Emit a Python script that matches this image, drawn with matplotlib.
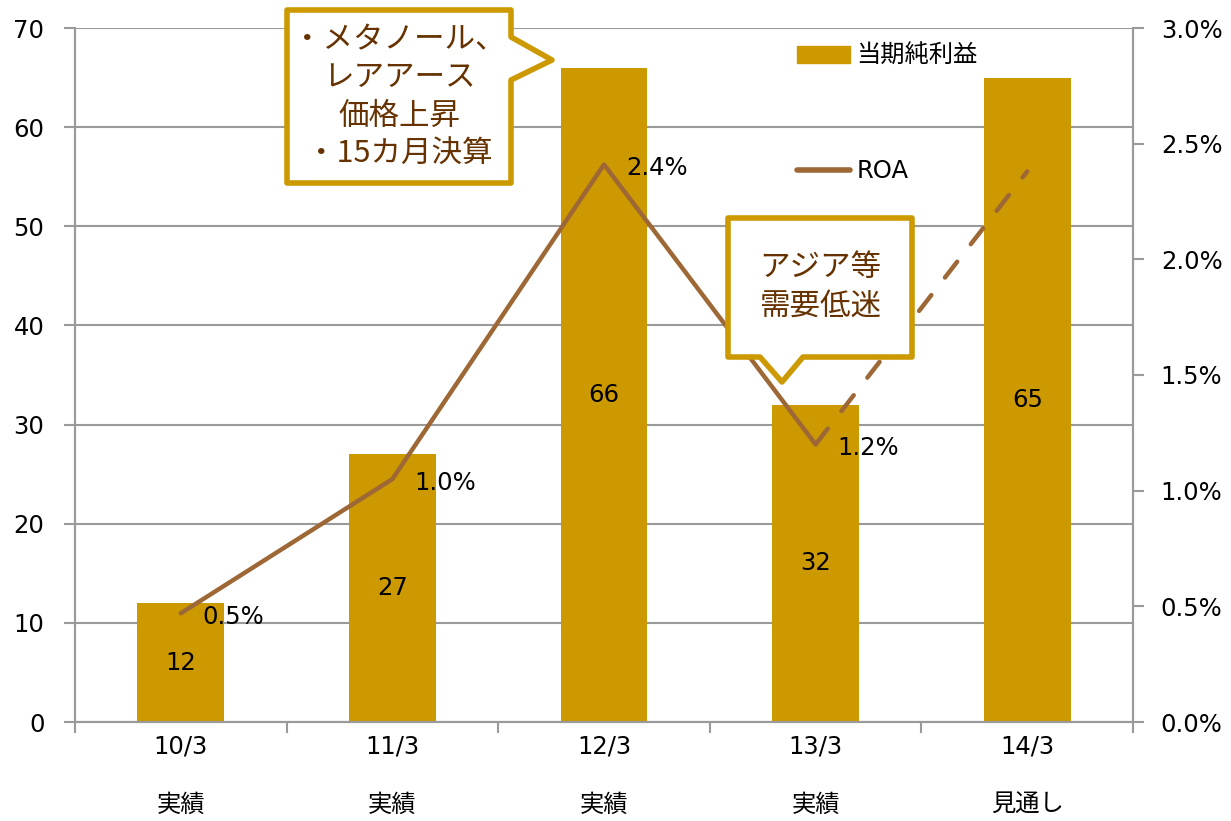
import numpy as np
import matplotlib
matplotlib.use("Agg")
import matplotlib.pyplot as plt
from matplotlib.patches import Polygon
from matplotlib.lines import Line2D
from matplotlib.patches import Patch

plt.rcParams['font.family'] = ['DejaVu Sans', 'Noto Sans CJK JP']

# data
periods = ["10/3", "11/3", "12/3", "13/3", "14/3"]
kinds = ["実績", "実績", "実績", "実績", "見通し"]
profit = [12, 27, 66, 32, 65]
roa = [0.47, 1.05, 2.41, 1.20, 2.38]
roa_labels = ["0.5%", "1.0%", "2.4%", "1.2%", ""]
note1 = "・メタノール、\nレアアース\n価格上昇\n・15カ月決算"
note2 = "アジア等\n需要低迷"

bar_color = "#CC9900"
line_color = "#9E6836"
note_color = "#663300"
grid_color = "#9A9A9A"
fs = 17.5

W, H = 1231, 821
fig = plt.figure(figsize=(W / 100, H / 100), dpi=100)
ax = fig.add_axes([75 / W, 1 - 722 / H, (1133 - 75) / W, (722 - 28) / H])
ax2 = ax.twinx()

x = np.arange(len(periods))
bars = ax.bar(x, profit, width=0.41, color=bar_color, zorder=2)
for xi, v in zip(x, profit):
    ax.text(xi, v / 2, str(v), ha="center", va="center", fontsize=fs, zorder=3)

ax.set_xlim(-0.5, len(periods) - 0.5)
ax.set_ylim(0, 70)
ax.set_yticks(range(0, 71, 10))
ax.yaxis.grid(True, color=grid_color, lw=1.5)
ax.set_axisbelow(True)
ax.set_xticks(x)
ax.set_xticklabels([p + "\n" + k for p, k in zip(periods, kinds)], linespacing=2.8)
ax.set_xticks(np.arange(-0.5, len(periods), 1), minor=True)
ax.tick_params(axis="x", which="major", length=0, pad=9, labelsize=fs)
ax.tick_params(axis="x", which="minor", length=8, width=1.5, color=grid_color)
ax.tick_params(axis="y", length=8, width=1.5, color=grid_color, labelsize=fs, pad=14)

for a in (ax, ax2):
    a.spines["top"].set_visible(False)
    for s in ("left", "right", "bottom"):
        a.spines[s].set_color(grid_color)
        a.spines[s].set_linewidth(1.5)

# ROA line: solid for actuals, dashed for forecast
ax2.plot(x[:4], roa[:4], color=line_color, lw=3.2, solid_capstyle="round", zorder=4)
ax2.plot(x[3:], roa[3:], color=line_color, lw=3.2, ls=(0, (4.5, 5)), dash_capstyle="round", zorder=4)
for xi, v, lab in zip(x, roa, roa_labels):
    if lab:
        ax2.annotate(lab, (xi, v), xytext=(22, -4), textcoords="offset pixels",
                     ha="left", va="center", fontsize=fs, zorder=5)
ax2.set_ylim(0, 3.0)
ax2.set_yticks(np.arange(0, 3.01, 0.5))
ax2.set_yticklabels(["%.1f%%" % t for t in np.arange(0, 3.01, 0.5)])
ax2.tick_params(axis="y", length=8, width=1.5, color=grid_color, labelsize=fs, pad=12)
ax2.set_zorder(ax.get_zorder() + 1)
ax2.patch.set_visible(False)

# legend
handles = [Patch(color=bar_color), Line2D([], [], color=line_color, lw=4, solid_capstyle="round")]
fig.legend(handles, ["当期純利益", "ROA"], loc="upper left", bbox_to_anchor=(775 / W, 1 - 22 / H),
           frameon=False, fontsize=fs, labelspacing=3.75, handlelength=2.2, handleheight=0.7,
           handletextpad=0.25)

# callouts (figure pixel coords, y from top)
def callout(pts, text, cx, cy):
    poly = Polygon([(px / W, 1 - py / H) for px, py in pts], closed=True, transform=fig.transFigure,
                   facecolor="white", edgecolor=bar_color, lw=4, joinstyle="round", zorder=10)
    fig.add_artist(poly)
    fig.text(cx / W, 1 - cy / H, text, ha="center", va="center", fontsize=22, color=note_color,
             linespacing=1.3, zorder=11, family=['Noto Sans CJK JP'])

callout([(287, 10), (511, 10), (511, 37), (552, 60), (511, 80), (511, 183), (287, 183)],
        note1, 399, 97)
callout([(728, 218), (912, 218), (912, 357), (803, 357), (782, 382), (760, 357), (728, 357)],
        note2, 820, 287)

fig.savefig("out.png", dpi=100)
